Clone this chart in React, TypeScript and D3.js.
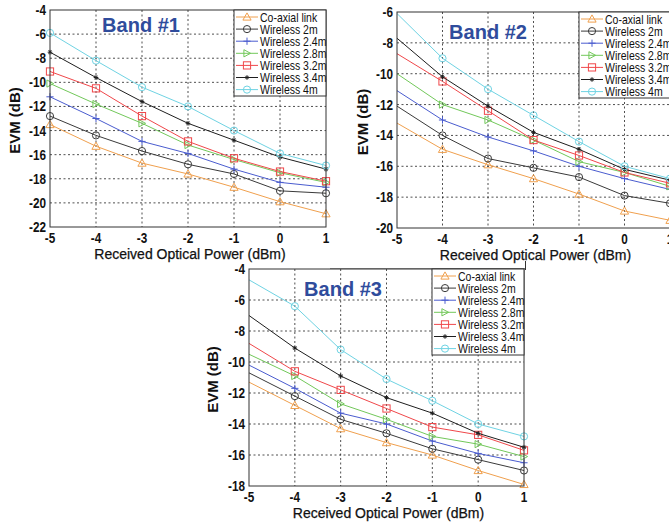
import { useEffect, useRef } from "react";
import * as d3 from "d3";

// x axis: received optical power (dBm)
const powers = [-5, -4, -3, -2, -1, 0, 1];

const seriesNames = [
  "Co-axial link",
  "Wireless 2m",
  "Wireless 2.4m",
  "Wireless 2.8m",
  "Wireless 3.2m",
  "Wireless 3.4m",
  "Wireless 4m",
];
const seriesColors = ["#f0a04e", "#3a3a3a", "#4a5ccf", "#72c85a", "#f0474a", "#1e1e1e", "#6fd3e3"];
const seriesMarkers = ["triUp", "circle", "plus", "triRight", "square", "star", "circle"];

// EVM (dB) per series, one row per series in the order of seriesNames
const band1 = [
  [-13.5, -15.3, -16.7, -17.6, -18.7, -19.9, -20.9],
  [-12.8, -14.4, -15.7, -16.8, -17.6, -19.0, -19.2],
  [-11.2, -13.0, -14.9, -15.9, -17.2, -18.3, -18.7],
  [-10.1, -11.8, -13.4, -15.2, -16.4, -17.5, -18.3],
  [-9.1, -10.5, -12.8, -14.9, -16.3, -17.4, -18.2],
  [-7.5, -9.6, -11.6, -13.4, -14.8, -16.2, -17.2],
  [-5.9, -8.2, -10.4, -12.0, -14.0, -15.9, -16.9],
];
const band2 = [
  [-13.2, -14.9, -15.9, -16.8, -17.8, -18.9, -19.5],
  [-12.1, -14.0, -15.5, -16.1, -16.7, -17.9, -18.4],
  [-11.1, -13.0, -14.1, -15.0, -16.0, -16.8, -17.5],
  [-10.0, -12.0, -13.0, -14.3, -15.7, -16.4, -17.3],
  [-8.7, -10.5, -12.4, -14.3, -15.3, -16.4, -17.1],
  [-7.7, -10.2, -12.1, -13.8, -14.9, -16.2, -16.9],
  [-6.1, -9.0, -11.0, -12.7, -14.4, -16.0, -16.8],
];
const band3 = [
  [-11.3, -12.8, -14.3, -15.2, -16.0, -17.0, -17.9],
  [-10.7, -12.2, -13.7, -14.6, -15.6, -16.3, -17.0],
  [-10.2, -11.7, -13.3, -14.0, -15.1, -15.9, -16.5],
  [-9.5, -10.9, -12.7, -13.7, -14.8, -15.3, -16.1],
  [-8.8, -10.6, -11.8, -13.0, -14.2, -14.7, -15.7],
  [-7.0, -9.1, -10.9, -12.3, -13.3, -14.6, -15.5],
  [-4.7, -6.4, -9.2, -11.1, -12.5, -14.0, -14.8],
];

const band1Ticks = [-22, -20, -18, -16, -14, -12, -10, -8, -6, -4];
const band2Ticks = [-20, -18, -16, -14, -12, -10, -8, -6];
const band3Ticks = [-18, -16, -14, -12, -10, -8, -6, -4];

const bandTitles = ["Band #1", "Band #2", "Band #3"];

// panel layout (pixels)
const panels = [
  { title: bandTitles[0], data: band1, ticks: band1Ticks, firstMarkers: true, left: 50, right: 326, top: 10, bottom: 227, titleX: 141, titleY: 25, legendX: 234, evmX: 15 },
  { title: bandTitles[1], data: band2, ticks: band2Ticks, firstMarkers: false, left: 397, right: 670, top: 12, bottom: 228, titleX: 488, titleY: 32, legendX: 579, evmX: 363 },
  { title: bandTitles[2], data: band3, ticks: band3Ticks, firstMarkers: false, left: 249, right: 524, top: 269, bottom: 486, titleX: 343, titleY: 289, legendX: 432, evmX: 213 },
];

const FONT = "'Liberation Sans', Arial, sans-serif";
const NARROW = 0.84; // the figure uses a condensed face

function drawMarker(g: any, type: string, x: number, y: number, color: string) {
  const s = 3.6;
  if (type === "circle") {
    g.append("circle").attr("cx", x).attr("cy", y).attr("r", s).attr("fill", "none").attr("stroke", color);
  } else if (type === "square") {
    g.append("rect").attr("x", x - s).attr("y", y - s).attr("width", 2 * s).attr("height", 2 * s).attr("fill", "none").attr("stroke", color);
  } else if (type === "triUp") {
    g.append("path")
      .attr("d", `M${x},${y - s - 0.5}L${x + s + 0.5},${y + s - 0.5}L${x - s - 0.5},${y + s - 0.5}Z`)
      .attr("fill", "none").attr("stroke", color);
  } else if (type === "triRight") {
    g.append("path")
      .attr("d", `M${x + s},${y}L${x - s + 0.5},${y - s}L${x - s + 0.5},${y + s}Z`)
      .attr("fill", "none").attr("stroke", color);
  } else if (type === "plus") {
    g.append("path").attr("d", `M${x - s},${y}H${x + s}M${x},${y - s}V${y + s}`).attr("stroke", color).attr("fill", "none");
  } else if (type === "star") {
    const r = 2.3;
    g.append("path")
      .attr("d", `M${x - r},${y}H${x + r}M${x},${y - r}V${y + r}M${x - r * 0.7},${y - r * 0.7}L${x + r * 0.7},${y + r * 0.7}M${x - r * 0.7},${y + r * 0.7}L${x + r * 0.7},${y - r * 0.7}`)
      .attr("stroke", color).attr("stroke-width", 1).attr("fill", "none");
  }
}

// condensed text drawn at (x, y)
function narrowText(g: any, x: number, y: number, str: string, anchor: string, size: number, bold: boolean) {
  return g.append("text")
    .attr("transform", `translate(${x},${y}) scale(${NARROW},1)`)
    .attr("text-anchor", anchor)
    .attr("font-family", FONT)
    .attr("font-weight", bold ? "bold" : "normal")
    .attr("font-size", size)
    .attr("fill", "#111")
    .text(str);
}

export default function App() {
  const svgRef = useRef<SVGSVGElement>(null);

  useEffect(() => {
    const svg = d3.select(svgRef.current);
    svg.selectAll("*").remove();

    svg.append("rect").attr("width", 669).attr("height", 525).attr("fill", "#fff");

    // stray border line left from the composed figure
    svg.append("line").attr("x1", 330).attr("x2", 525).attr("y1", 268.5).attr("y2", 268.5).attr("stroke", "#999");
    svg.append("line").attr("x1", 525.5).attr("x2", 525.5).attr("y1", 261).attr("y2", 270).attr("stroke", "#333");

    panels.forEach((p) => {
      const g = svg.append("g");
      const x = d3.scaleLinear().domain([-5, 1]).range([p.left, p.right]);
      const y = d3.scaleLinear().domain([p.ticks[0], p.ticks[p.ticks.length - 1]]).range([p.bottom, p.top]);

      // grid
      g.selectAll(".gx")
        .data(powers.slice(1, -1))
        .join("line")
        .attr("x1", (d) => x(d)).attr("x2", (d) => x(d))
        .attr("y1", p.top).attr("y2", p.bottom)
        .attr("stroke", "#222").attr("stroke-width", 0.8).attr("stroke-dasharray", "2,2.5");
      g.selectAll(".gy")
        .data(p.ticks.slice(1, -1))
        .join("line")
        .attr("y1", (d) => y(d)).attr("y2", (d) => y(d))
        .attr("x1", p.left).attr("x2", p.right)
        .attr("stroke", "#222").attr("stroke-width", 0.8).attr("stroke-dasharray", "2,2.5");

      // series
      p.data.forEach((vals, i) => {
        const line = d3.line<number>().x((_, j) => x(powers[j])).y((d) => y(d));
        g.append("path").attr("d", line(vals)).attr("fill", "none").attr("stroke", seriesColors[i]).attr("stroke-width", 1);
        vals.forEach((v, j) => {
          if (j === 0 && !p.firstMarkers) return;
          drawMarker(g, seriesMarkers[i], x(powers[j]), y(v), seriesColors[i]);
        });
      });

      // frame
      g.append("rect")
        .attr("x", p.left).attr("y", p.top)
        .attr("width", p.right - p.left).attr("height", p.bottom - p.top)
        .attr("fill", "none").attr("stroke", "#333").attr("stroke-width", 1);

      // tick labels
      p.ticks.forEach((t) => narrowText(g, p.left - 4, y(t) + 5, String(t), "end", 14, true));
      powers.forEach((t) => narrowText(g, x(t), p.bottom + 16, String(t), "middle", 14, true));

      g.append("text")
        .attr("x", (p.left + p.right) / 2 + 2).attr("y", p.bottom + 31.5)
        .attr("text-anchor", "middle").attr("font-family", FONT)
        .attr("font-size", 14).attr("fill", "#111")
        .attr("stroke", "#111").attr("stroke-width", 0.25)
        .text("Received Optical Power (dBm)");

      g.append("text")
        .attr("transform", `translate(${p.evmX + 5},${(p.top + p.bottom) / 2 + 2}) rotate(-90)`)
        .attr("text-anchor", "middle").attr("font-family", FONT)
        .attr("font-weight", "bold").attr("font-size", 15).attr("fill", "#111")
        .text("EVM (dB)");

      g.append("text")
        .attr("x", p.titleX).attr("y", p.titleY + 7)
        .attr("text-anchor", "middle").attr("font-family", FONT)
        .attr("font-weight", "bold").attr("font-size", 20).attr("fill", "#2f4c9c")
        .text(p.title);

      // legend
      const lg = g.append("g").attr("transform", `translate(${p.legendX},${p.top})`);
      lg.append("rect").attr("width", p.right - p.legendX).attr("height", 86).attr("fill", "#fff").attr("stroke", "#333");
      seriesNames.forEach((name, i) => {
        const cy = 7 + i * 12.1;
        lg.append("line").attr("x1", 2).attr("x2", 24).attr("y1", cy).attr("y2", cy).attr("stroke", seriesColors[i]);
        drawMarker(lg, seriesMarkers[i], 13, cy, seriesColors[i]);
        narrowText(lg, 26, cy + 4.5, name, "start", 12.5, false);
      });
    });
  }, []);

  return (
    <div style={{ position: "absolute", left: 0, top: 0 }}>
      <svg ref={svgRef} width={669} height={525} style={{ display: "block" }} />
    </div>
  );
}
